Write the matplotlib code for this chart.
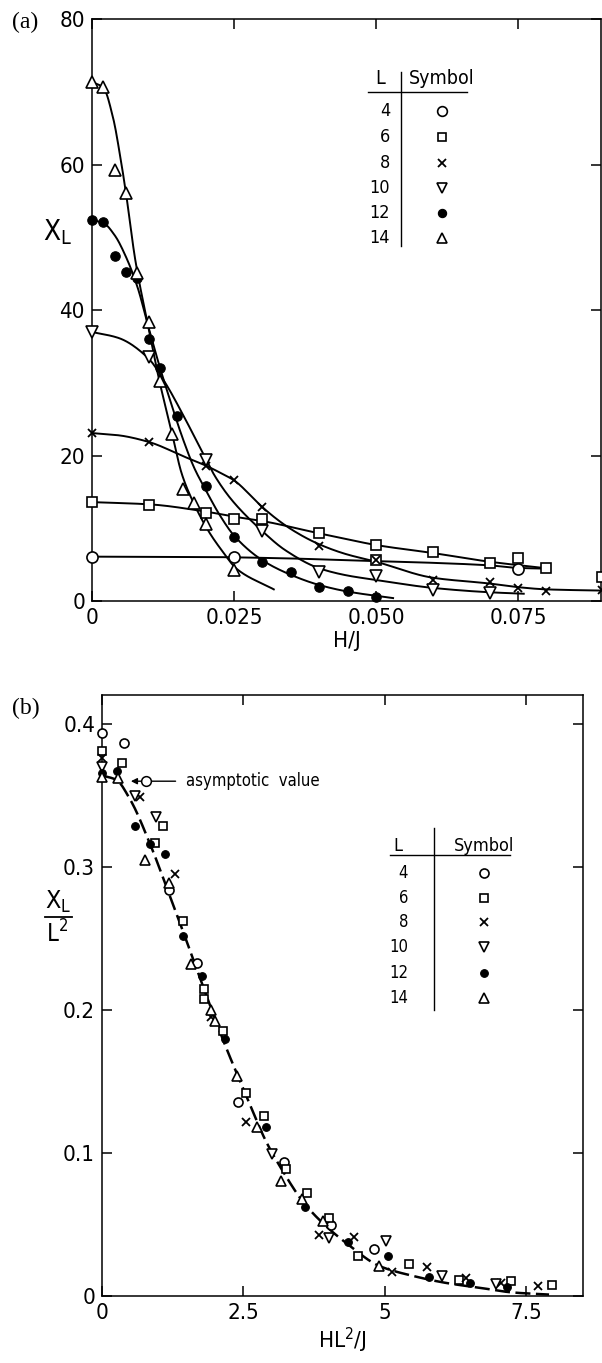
import numpy as np
import matplotlib
matplotlib.use("Agg")
import matplotlib.pyplot as plt
from matplotlib.lines import Line2D

# ---------------------------------------------------------------------------
# (a)  chi_L against H/J for each lattice size L
# ---------------------------------------------------------------------------
L_SIZES = [4, 6, 8, 10, 12, 14]

A_H_L4 = [0, 0.025, 0.075]
A_CHI_L4 = [6.1, 6.05, 4.4]
A_H_L6 = [0, 0.010, 0.020, 0.025, 0.030, 0.040, 0.050, 0.050, 0.060, 0.070, 0.075, 0.080, 0.0898]
A_CHI_L6 = [13.6, 13.2, 12.1, 11.3, 11.3, 9.35, 7.7, 5.6, 6.7, 5.2, 5.9, 4.5, 3.3]
A_H_L8 = [0, 0.010, 0.020, 0.025, 0.030, 0.040, 0.050, 0.060, 0.070, 0.075, 0.080, 0.0898]
A_CHI_L8 = [23.1, 21.9, 18.6, 16.6, 12.9, 7.6, 5.6, 2.9, 2.6, 1.8, 1.4, 1.5]
A_H_L10 = [0, 0.010, 0.020, 0.030, 0.040, 0.050, 0.060, 0.070]
A_CHI_L10 = [37.0, 33.6, 19.4, 9.6, 4.0, 3.4, 1.5, 1.1]
A_H_L12 = [0, 0.002, 0.004, 0.006, 0.008, 0.010, 0.012, 0.015, 0.020, 0.025, 0.030, 0.035, 0.040, 0.045, 0.050]
A_CHI_L12 = [52.4, 52.1, 47.5, 45.3, 44.4, 36.0, 32.0, 25.5, 15.8, 8.8, 5.4, 4.0, 1.9, 1.4, 0.55]
A_H_L14 = [0, 0.002, 0.004, 0.006, 0.008, 0.010, 0.012, 0.014, 0.016, 0.018, 0.020, 0.025]
A_CHI_L14 = [71.4, 70.7, 59.3, 56.1, 45.1, 38.4, 30.3, 23.0, 15.4, 13.5, 10.6, 4.3]

# hand-drawn guide curves through each set of points
A_FIT_H_L4 = [0, 0.020, 0.035, 0.045, 0.060, 0.070, 0.075, 0.080]
A_FIT_CHI_L4 = [6.1, 6.05, 5.85, 5.6, 5.25, 4.9, 4.55, 4.45]
A_FIT_H_L6 = [0, 0.010, 0.020, 0.025, 0.030, 0.040, 0.0437, 0.050, 0.060, 0.070, 0.080]
A_FIT_CHI_L6 = [13.6, 13.3, 12.3, 11.6, 11.0, 9.3, 8.7, 7.7, 6.6, 5.4, 4.5]
A_FIT_H_L8 = [0, 0.0046, 0.0099, 0.0164, 0.0201, 0.0234, 0.025, 0.0282, 0.030, 0.0352,
              0.040, 0.0445, 0.050, 0.060, 0.070, 0.075, 0.080, 0.092]
A_FIT_CHI_L8 = [23.1, 22.8, 21.9, 19.8, 18.6, 17.3, 16.6, 14.3, 12.9, 9.8,
                7.8, 6.5, 5.4, 3.2, 2.4, 1.9, 1.6, 1.4]
A_FIT_H_L10 = [0, 0.0046, 0.0099, 0.0129, 0.0161, 0.0194, 0.0217, 0.0246, 0.030, 0.034,
               0.040, 0.045, 0.050, 0.060, 0.070, 0.076]
A_FIT_CHI_L10 = [37.0, 36.2, 33.4, 30.0, 25.5, 20.5, 17.1, 13.9, 9.6, 7.0,
                 4.5, 3.5, 2.9, 1.8, 1.2, 1.0]
A_FIT_H_L12 = [0, 0.002, 0.004, 0.006, 0.008, 0.010, 0.012, 0.014, 0.016, 0.018, 0.020,
               0.0225, 0.025, 0.030, 0.035, 0.040, 0.045, 0.053]
A_FIT_CHI_L12 = [52.4, 52.0, 50.3, 47.3, 43.2, 37.5, 32.0, 27.0, 22.3, 18.3, 15.3,
                 11.8, 9.0, 5.6, 3.6, 2.2, 1.3, 0.4]
A_FIT_H_L14 = [0, 0.002, 0.0037, 0.005, 0.006, 0.0076, 0.0097, 0.0118, 0.0141, 0.0158,
               0.018, 0.0206, 0.023, 0.0255, 0.032]
A_FIT_CHI_L14 = [71.4, 70.6, 66.5, 61.0, 56.0, 47.0, 38.5, 30.5, 23.0, 17.5,
                 13.3, 9.5, 6.8, 4.4, 1.6]

# ---------------------------------------------------------------------------
# (b)  scaled susceptibility chi_L / L^2 against H L^2 / J
# ---------------------------------------------------------------------------
B_X_L4 = [0, 0.39, 1.19, 1.67, 2.40, 3.21, 4.04, 4.81]
B_Y_L4 = [0.394, 0.387, 0.284, 0.233, 0.136, 0.094, 0.050, 0.033]
B_X_L6 = [0, 0.36, 0.93, 1.08, 1.44, 1.80, 1.80, 2.14, 2.55, 2.86, 3.25, 3.62, 4.02,
          4.52, 5.42, 6.30, 7.23, 7.95]
B_Y_L6 = [0.381, 0.373, 0.317, 0.329, 0.262, 0.2145, 0.208, 0.185, 0.142, 0.126, 0.0886,
          0.0718, 0.0543, 0.0282, 0.0222, 0.0112, 0.0105, 0.0077]
B_X_L8 = [0, 0.67, 1.29, 1.92, 2.55, 3.84, 4.45, 5.12, 5.75, 6.44, 7.05, 7.70]
B_Y_L8 = [0.376, 0.349, 0.295, 0.195, 0.122, 0.043, 0.0415, 0.017, 0.0205, 0.0124,
          0.0093, 0.007]
B_X_L10 = [0, 0.59, 0.95, 3.0, 4.02, 5.02, 6.01, 6.97]
B_Y_L10 = [0.370, 0.350, 0.335, 0.0993, 0.0408, 0.0387, 0.014, 0.0082]
B_X_L12 = [0, 0.26, 0.58, 0.85, 1.11, 1.44, 1.76, 2.17, 2.89, 3.59, 4.34, 5.05, 5.77,
           6.51, 7.16]
B_Y_L12 = [0.366, 0.367, 0.329, 0.316, 0.309, 0.252, 0.224, 0.1795, 0.118, 0.0625,
           0.0375, 0.028, 0.0135, 0.0093, 0.006]
B_X_L14 = [0, 0.28, 0.76, 1.19, 1.57, 1.92, 2.0, 2.38, 2.74, 3.17, 3.53, 3.90, 4.90]
B_Y_L14 = [0.363, 0.362, 0.305, 0.289, 0.232, 0.200, 0.192, 0.154, 0.118, 0.0806,
           0.0678, 0.0524, 0.0212]

# universal scaling curve
B_FIT_X = [0, 0.25, 0.5, 0.85, 1.15, 1.45, 1.8, 2.15, 2.55, 2.9, 3.2, 3.55, 3.9, 4.35,
           4.9, 5.5, 6.1, 6.7, 7.25, 7.9]
B_FIT_Y = [0.364, 0.361, 0.347, 0.316, 0.285, 0.253, 0.215, 0.178, 0.140, 0.108, 0.087,
           0.066, 0.051, 0.036, 0.021, 0.014, 0.009, 0.0056, 0.0025, 0.001]

ASYMPTOTIC_VALUE = 0.36

A_DATA = {4: (A_H_L4, A_CHI_L4), 6: (A_H_L6, A_CHI_L6), 8: (A_H_L8, A_CHI_L8),
          10: (A_H_L10, A_CHI_L10), 12: (A_H_L12, A_CHI_L12), 14: (A_H_L14, A_CHI_L14)}
A_FITS = {4: (A_FIT_H_L4, A_FIT_CHI_L4), 6: (A_FIT_H_L6, A_FIT_CHI_L6),
          8: (A_FIT_H_L8, A_FIT_CHI_L8), 10: (A_FIT_H_L10, A_FIT_CHI_L10),
          12: (A_FIT_H_L12, A_FIT_CHI_L12), 14: (A_FIT_H_L14, A_FIT_CHI_L14)}
B_DATA = {4: (B_X_L4, B_Y_L4), 6: (B_X_L6, B_Y_L6), 8: (B_X_L8, B_Y_L8),
          10: (B_X_L10, B_Y_L10), 12: (B_X_L12, B_Y_L12), 14: (B_X_L14, B_Y_L14)}

# symbol per lattice size: (marker, filled)
SYMBOLS = {4: ("o", False), 6: ("s", False), 8: ("x", False),
           10: ("v", False), 12: ("o", True), 14: ("^", False)}
SIZE_SCALE = {"o": 1.0, "s": 0.9, "x": 0.95, "v": 1.05, "^": 1.05}

plt.rcParams.update({
    "font.family": "DejaVu Sans",
    "font.stretch": "condensed",
    "mathtext.fontset": "dejavusans",
    "axes.linewidth": 1.1,
    "xtick.direction": "in",
    "ytick.direction": "in",
    "xtick.top": True,
    "ytick.right": True,
    "xtick.major.size": 7,
    "ytick.major.size": 7,
    "xtick.major.width": 1.1,
    "ytick.major.width": 1.1,
})

W, H = 602, 1363
fig = plt.figure(figsize=(W / 100, H / 100), dpi=100)


def fx(px):
    return px / W


def fy(py):
    return 1 - py / H


def smooth(xk, yk, n=300):
    """Monotone cubic (Fritsch-Carlson) through guide knots."""
    xk = np.asarray(xk, float)
    yk = np.asarray(yk, float)
    h = np.diff(xk)
    d = np.diff(yk) / h
    m = np.zeros_like(yk)
    m[0], m[-1] = d[0], d[-1]
    for i in range(1, len(xk) - 1):
        if d[i - 1] * d[i] > 0:
            w1 = 2 * h[i] + h[i - 1]
            w2 = h[i] + 2 * h[i - 1]
            m[i] = (w1 + w2) / (w1 / d[i - 1] + w2 / d[i])
    xs = np.linspace(xk[0], xk[-1], n)
    idx = np.clip(np.searchsorted(xk, xs) - 1, 0, len(h) - 1)
    t = (xs - xk[idx]) / h[idx]
    h00 = 2 * t**3 - 3 * t**2 + 1
    h10 = t**3 - 2 * t**2 + t
    h01 = -2 * t**3 + 3 * t**2
    h11 = t**3 - t**2
    ys = (h00 * yk[idx] + h10 * h[idx] * m[idx]
          + h01 * yk[idx + 1] + h11 * h[idx] * m[idx + 1])
    return xs, ys


def marker_kw(L, ms):
    mk, filled = SYMBOLS[L]
    ms = ms * SIZE_SCALE[mk]
    if mk == "x":
        return dict(marker="x", ms=ms * 0.85, mec="k", mew=1.3, ls="none")
    if filled:
        return dict(marker="o", ms=ms * 0.85, mfc="k", mec="k", mew=0.8, ls="none")
    return dict(marker=mk, ms=ms, mfc="white", mec="k", mew=1.2, ls="none")


def legend_table(x_L, x_line, x_sym, x_hl0, x_hl1, y_head, y_hl, y_vl0, y_vl1,
                 rows_y, fs_head, fs_row, ms):
    fig.text(fx(x_L - 10), fy(y_head), "L", ha="center", va="center", fontsize=fs_head)
    fig.text(fx(x_sym), fy(y_head), "Symbol", ha="center", va="center", fontsize=fs_head)
    fig.add_artist(Line2D([fx(x_hl0), fx(x_hl1)], [fy(y_hl), fy(y_hl)],
                          transform=fig.transFigure, color="k", lw=1.0))
    fig.add_artist(Line2D([fx(x_line), fx(x_line)], [fy(y_vl0), fy(y_vl1)],
                          transform=fig.transFigure, color="k", lw=1.0))
    for L, ry in zip(L_SIZES, rows_y):
        fig.text(fx(x_L), fy(ry), str(L), ha="right", va="center", fontsize=fs_row)
        fig.add_artist(Line2D([fx(x_sym)], [fy(ry)], transform=fig.transFigure,
                              **marker_kw(L, ms)))


# ---------------------------------------------------------------------------
# panel (a)
# ---------------------------------------------------------------------------
ax = fig.add_axes([fx(92), fy(601), (601 - 92) / W, (601 - 19.4) / H])
for L in L_SIZES:
    hx, hy = smooth(*A_FITS[L])
    ax.plot(hx, hy, color="k", lw=1.4, zorder=2)
for L in L_SIZES:
    hx, hy = A_DATA[L]
    ax.plot(hx, hy, clip_on=False, zorder=3, **marker_kw(L, 8))

ax.set_xlim(0, 0.0896)
ax.set_ylim(0, 80)
ax.set_xticks([0, 0.025, 0.050, 0.075])
ax.set_xticklabels(["0", "0.025", "0.050", "0.075"])
ax.set_yticks([0, 20, 40, 60, 80])
ax.tick_params(labelsize=16, pad=5)
ax.set_xlabel("H/J", fontsize=16, labelpad=2)
fig.text(fx(58), fy(232), r"$\mathregular{X_L}$", fontsize=20, ha="center", va="center")
fig.text(fx(12), fy(22), "(a)", fontsize=17, family="Liberation Serif", va="center")

legend_table(x_L=390, x_line=401, x_sym=442, x_hl0=368, x_hl1=467,
             y_head=79, y_hl=92, y_vl0=72, y_vl1=246,
             rows_y=[111, 137, 163, 188, 213, 238], fs_head=14, fs_row=13, ms=7)

# ---------------------------------------------------------------------------
# panel (b)
# ---------------------------------------------------------------------------
bx = fig.add_axes([fx(102), fy(1296), (583 - 102) / W, (1296 - 695.4) / H])
cx, cy = smooth(B_FIT_X, B_FIT_Y)
bx.plot(cx, cy, color="k", lw=1.8, ls=(0, (6, 2.2)), zorder=2)
for L in L_SIZES:
    px_, py_ = B_DATA[L]
    bx.plot(px_, py_, clip_on=False, zorder=3, **marker_kw(L, 6.5))

# arrow marking the asymptotic value
bx.annotate("", xy=(0.51, ASYMPTOTIC_VALUE), xytext=(1.30, ASYMPTOTIC_VALUE),
            arrowprops=dict(arrowstyle="-|>", color="k", lw=1.0,
                            mutation_scale=9, shrinkA=0, shrinkB=0))
bx.plot([0.775], [ASYMPTOTIC_VALUE], marker="o", ms=7, mfc="white", mec="k",
        mew=1.1, ls="none", zorder=4)
bx.text(1.48, ASYMPTOTIC_VALUE, "asymptotic  value", fontsize=12, va="center")

bx.set_xlim(0, 8.5)
bx.set_ylim(0, 0.42)
bx.set_xticks([0, 2.5, 5, 7.5])
bx.set_xticklabels(["0", "2.5", "5", "7.5"])
bx.set_yticks([0, 0.1, 0.2, 0.3, 0.4])
bx.set_yticklabels(["0", "0.1", "0.2", "0.3", "0.4"])
bx.tick_params(labelsize=16, pad=5)
bx.set_xlabel(r"$\mathregular{HL^2/J}$", fontsize=16, labelpad=2)

# stacked ylabel  X_L / L^2
fig.text(fx(58), fy(902), r"$\mathregular{X_L}$", fontsize=18, ha="center", va="center")
fig.add_artist(Line2D([fx(45), fx(72)], [fy(917), fy(917)],
                      transform=fig.transFigure, color="k", lw=1.3))
fig.text(fx(57), fy(934), r"$\mathregular{L^2}$", fontsize=17, ha="center", va="center")
fig.text(fx(12), fy(708), "(b)", fontsize=17, family="Liberation Serif", va="center")

legend_table(x_L=408, x_line=434, x_sym=484, x_hl0=390, x_hl1=510,
             y_head=846, y_hl=855, y_vl0=828, y_vl1=1010,
             rows_y=[873, 898, 922, 947, 973, 998], fs_head=13, fs_row=12, ms=6.5)

fig.savefig("out.png", dpi=100)
